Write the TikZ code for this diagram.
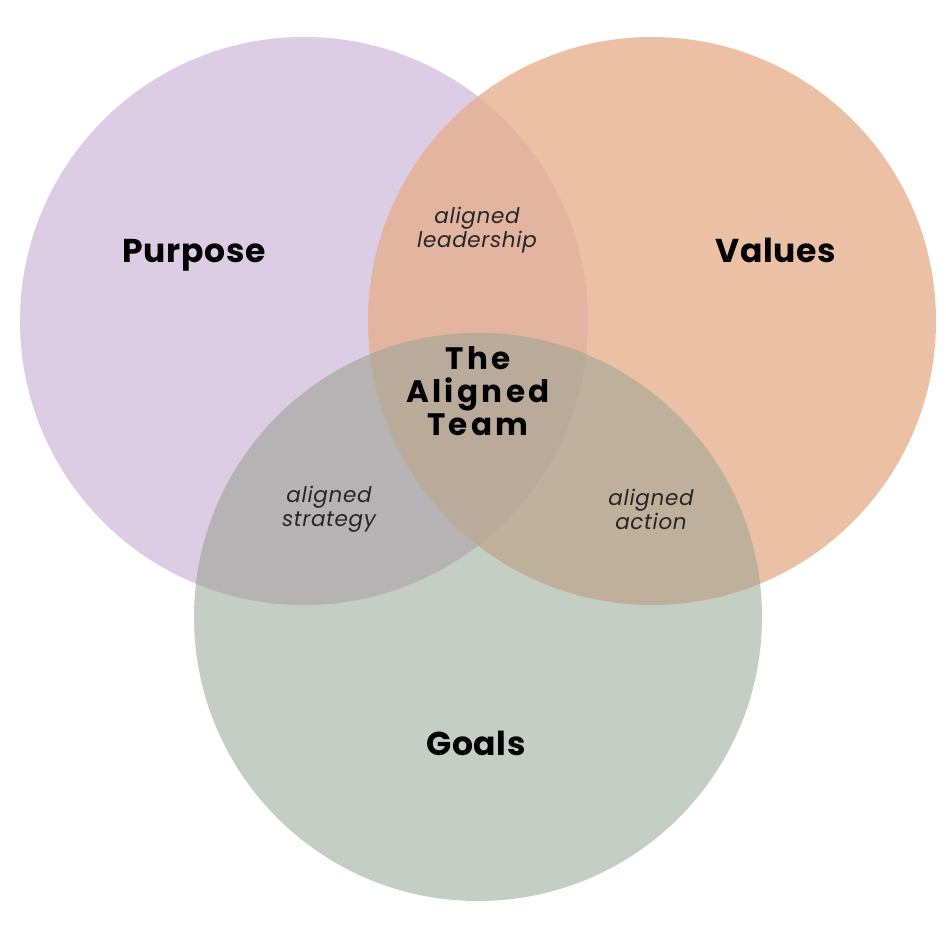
\documentclass[tikz,border=0pt]{standalone}
\usepackage{fontspec}
\setmainfont{Poppins}
\newfontfamily\teamfont[LetterSpace=11]{Poppins}
\newfontfamily\mainfont[LetterSpace=2]{Poppins}
\newfontfamily\subfont[LetterSpace=3]{Poppins}
\definecolor{cpur}{HTML}{DCCDE4}
\definecolor{cora}{HTML}{ECC0A5}
\definecolor{cgrn}{HTML}{C5CEC5}
\definecolor{cpo}{HTML}{E3B5A0}
\definecolor{cpg}{HTML}{B5B3B4}
\definecolor{cog}{HTML}{BFB09C}
\definecolor{call}{HTML}{B9AA99}
\begin{document}
\begin{tikzpicture}[x=1pt,y=-1pt,
  mainlbl/.style={font=\mainfont\fontsize{33}{36}\selectfont\bfseries, text=black, anchor=base},
  sublbl/.style={font=\subfont\fontsize{21.5}{24}\selectfont\itshape, text=black!85, align=center},
  teamlbl/.style={font=\teamfont\fontsize{31}{33}\selectfont\bfseries, text=black, align=center}]
\useasboundingbox (0,0) rectangle (946,946);
\fill[white] (0,0) rectangle (946,946);
\def\rr{284}
\coordinate (cP) at (304,321);
\coordinate (cO) at (652,321);
\coordinate (cG) at (478,617);
\fill[cpur] (cP) circle (\rr);
\fill[cora] (cO) circle (\rr);
\fill[cgrn] (cG) circle (\rr);
\begin{scope}
  \clip (cP) circle (\rr);
  \fill[cpo] (cO) circle (\rr);
  \fill[cpg] (cG) circle (\rr);
\end{scope}
\begin{scope}
  \clip (cO) circle (\rr);
  \fill[cog] (cG) circle (\rr);
\end{scope}
\begin{scope}
  \clip (cP) circle (\rr);
  \clip (cO) circle (\rr);
  \fill[call] (cG) circle (\rr);
\end{scope}
\node[mainlbl] (purpose) at (194,262) {Purpose};
\node[mainlbl] (values) at (776,262) {Values};
\node[mainlbl] (goals) at (476,755) {Goals};
\node[sublbl] (lead) at (477,230) {aligned\\leadership};
\node[sublbl] (strat) at (329,509) {aligned\\strategy};
\node[sublbl] (act) at (651,509) {aligned\\action};
\node[teamlbl] (team) at (478,391) {The\\Aligned\\Team};
\end{tikzpicture}
\end{document}
